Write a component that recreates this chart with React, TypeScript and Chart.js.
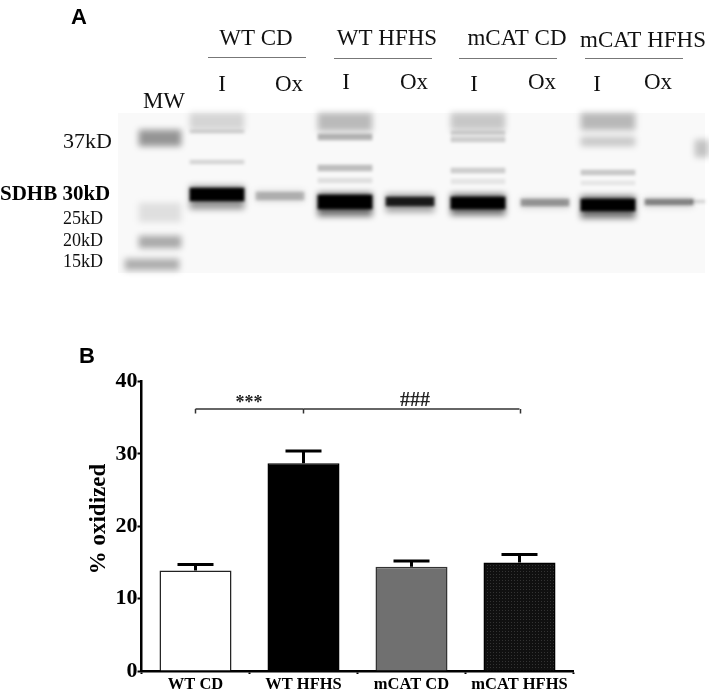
import React, { useEffect, useRef } from "react";
import { Chart, registerables } from "chart.js";

Chart.register(...registerables);

const W = 709;
const H = 690;
const SERIF = "'Liberation Serif'";
const SANS = "'Liberation Sans'";

// Panel B data
const groups = ["WT CD", "WT HFHS", "mCAT CD", "mCAT HFHS"];
const oxidized = [13.9, 28.7, 14.4, 15.0];
const errorTop = [14.7, 30.4, 15.2, 16.1];
const bracketStars = [36.2, 36.2, null, null];
const bracketHash = [null, 36.2, 36.2, 36.2];
const yTicks = [0, 10, 20, 30, 40];

// Panel A gel: lane position along the gel, migration start / end, density
const bandLane = [
  42, 42, 42, 34,
  99, 99, 99, 99, 99,
  162, 162,
  227, 227, 227, 227, 227, 227,
  292, 292,
  360, 360, 360, 360, 360, 360, 360,
  427, 427,
  490, 490, 490, 490, 490, 490,
  551, 551,
  580, 584,
];
const bandStart = [
  17, 90, 123, 146,
  0, 17, 47, 73, 75,
  78, 79,
  0, 21, 52, 65, 80, 82,
  81, 84,
  0, 18, 24, 55, 66, 81, 84,
  85, 86,
  0, 24, 57, 68, 83, 86,
  85, 86,
  87, 27,
];
const bandEnd = [
  33, 109, 135, 157,
  17, 20, 51, 96, 88,
  88, 87,
  18, 27, 58, 70, 103, 96,
  99, 93,
  17, 22, 29, 60, 71, 102, 96,
  95, 93,
  17, 33, 62, 72, 105, 98,
  94, 92,
  90, 44,
];
const bandDensity = [
  0.4, 0.1, 0.32, 0.3,
  0.14, 0.14, 0.14, 0.4, 1,
  0.14, 0.2,
  0.25, 0.28, 0.24, 0.1, 0.55, 1,
  0.35, 0.85,
  0.2, 0.16, 0.18, 0.18, 0.08, 0.55, 1,
  0.15, 0.32,
  0.26, 0.2, 0.2, 0.08, 0.55, 1,
  0.15, 0.4,
  0.14, 0.22,
];
const laneWidth = (x: number) => (x < 60 ? (x < 40 ? 54 : 42) : x > 570 ? 14 : [99, 227, 360, 490].includes(x) ? 54 : 48);

// Panel A texts
const headers = ["WT CD", "WT HFHS", "mCAT CD", "mCAT HFHS"];
const fractions = ["I", "Ox"];
const markers = ["37kD", "25kD", "20kD", "15kD"];

const stipple = () => {
  const c = document.createElement("canvas");
  c.width = 3;
  c.height = 3;
  const g = c.getContext("2d")!;
  g.fillStyle = "#101010";
  g.fillRect(0, 0, 3, 3);
  g.fillStyle = "#333333";
  g.fillRect(1, 1, 1, 1);
  return g.createPattern(c, "repeat")!;
};

const errorBars = {
  id: "errorBars",
  afterDatasetsDraw(chart: any) {
    const { ctx, scales } = chart;
    ctx.save();
    ctx.strokeStyle = "#000";
    groups.forEach((_, i) => {
      const x = scales.x.getPixelForValue(i);
      const top = scales.y.getPixelForValue(errorTop[i]);
      const base = scales.y.getPixelForValue(oxidized[i]);
      ctx.lineWidth = 3;
      ctx.beginPath();
      ctx.moveTo(x, base);
      ctx.lineTo(x, top);
      ctx.moveTo(x - 18, top);
      ctx.lineTo(x + 18, top);
      ctx.stroke();
    });
    // bracket ends and significance marks
    ctx.strokeStyle = "#333";
    ctx.lineWidth = 1.5;
    [0, 1, 3].forEach((i) => {
      const x = scales.x.getPixelForValue(i) + (i === 3 ? 1 : 0);
      const y = scales.y.getPixelForValue(36.2);
      ctx.beginPath();
      ctx.moveTo(x, y);
      ctx.lineTo(x, y + 4.5);
      ctx.stroke();
    });
    ctx.fillStyle = "#222";
    ctx.textAlign = "center";
    ctx.font = `bold 18px ${SERIF}`;
    ctx.fillText("***", 249, 408);
    ctx.font = `bold 20px ${SERIF}`;
    ctx.fillText("###", 415, 406);
    // y title and panel letter
    ctx.fillStyle = "#000";
    ctx.save();
    ctx.translate(105, 519);
    ctx.rotate(-Math.PI / 2);
    ctx.font = `bold 23px ${SERIF}`;
    ctx.fillText("% oxidized", 0, 0);
    ctx.restore();
    ctx.textAlign = "left";
    ctx.font = `900 22px ${SANS}`;
    ctx.fillText("B", 79, 363);
    ctx.restore();
  },
};

const gelBlur = {
  id: "gelBlur",
  beforeDraw(chart: any) {
    const { ctx, chartArea: a } = chart;
    ctx.save();
    ctx.fillStyle = "#f9f9f9";
    ctx.fillRect(a.left, a.top, a.right - a.left, a.bottom - a.top);
    ctx.restore();
  },
  beforeDatasetDraw(chart: any, args: any) {
    const { ctx } = chart;
    const i = args.index;
    const thick = bandEnd[i] - bandStart[i];
    const soft = bandDensity[i] < 0.7 && thick > 8;
    ctx.save();
    ctx.filter = `blur(${soft ? 3 : 1.6}px)`;
  },
  afterDatasetDraw(chart: any) {
    chart.ctx.restore();
  },
  afterDraw(chart: any) {
    const { ctx } = chart;
    ctx.save();
    ctx.fillStyle = "#000";
    ctx.textAlign = "center";
    ctx.font = `bold 22px ${SANS}`;
    ctx.fillText("A", 79, 24);
    ctx.fillStyle = "#111";
    ctx.font = `23px ${SERIF}`;
    const headerX = [256, 387, 517, 643];
    const headerY = [45, 45, 45, 47];
    headers.forEach((t, i) => ctx.fillText(t, headerX[i], headerY[i]));
    const fracX = [222, 289, 346, 414, 474, 542, 597, 658];
    const fracY = [91, 91, 89, 89, 91, 89, 91, 89];
    fracX.forEach((x, i) => ctx.fillText(fractions[i % 2], x, fracY[i]));
    ctx.fillText("MW", 164, 108);
    ctx.strokeStyle = "#777";
    ctx.lineWidth = 1;
    [[208, 57], [334, 58], [459, 58], [585, 58]].forEach(([x, y]) => {
      ctx.beginPath();
      ctx.moveTo(x, y + 0.5);
      ctx.lineTo(x + 98, y + 0.5);
      ctx.stroke();
    });
    ctx.textAlign = "left";
    ctx.font = `22px ${SERIF}`;
    ctx.fillText(markers[0], 63, 148);
    ctx.font = `18px ${SERIF}`;
    ctx.fillText(markers[1], 63, 224);
    ctx.fillText(markers[2], 63, 245.5);
    ctx.fillText(markers[3], 63, 267);
    ctx.fillStyle = "#000";
    ctx.font = `bold 21px ${SERIF}`;
    ctx.fillText("SDHB 30kD", 0, 200);
    ctx.restore();
  },
};

export default function App() {
  const barRef = useRef<HTMLCanvasElement>(null);
  const gelRef = useRef<HTMLCanvasElement>(null);

  useEffect(() => {
    const bars = new Chart(barRef.current!, {
      type: "bar",
      data: {
        labels: groups,
        datasets: [
          {
            type: "line",
            data: bracketStars,
            borderColor: "#333",
            borderWidth: 1.5,
            pointRadius: 0,
          },
          {
            type: "line",
            data: bracketHash,
            borderColor: "#333",
            borderWidth: 1.5,
            pointRadius: 0,
          },
          {
            data: oxidized,
            backgroundColor: ["#ffffff", "#000000", "#707070", stipple()],
            borderColor: ["#222", "#000", "#333", "#000"],
            borderWidth: 1.5,
            categoryPercentage: 1,
            barPercentage: 0.667,
          },
        ],
      } as any,
      options: {
        responsive: false,
        animation: false,
        layout: { padding: { left: 0, top: 381.5, right: 135.5, bottom: 0 } },
        plugins: { legend: { display: false }, tooltip: { enabled: false } },
        scales: {
          x: {
            afterFit: (s: any) => {
              s.height = 19;
            },
            border: { color: "#000", width: 2.5 },
            grid: { drawOnChartArea: false, tickLength: 3, tickWidth: 2, tickColor: "#000" },
            ticks: {
              color: "#000",
              padding: 1,
              maxRotation: 0,
              font: { family: SERIF, weight: "bold", size: 16.5 },
            },
          },
          y: {
            min: 0,
            max: 40,
            afterFit: (s: any) => {
              s.width = 141.5;
            },
            afterBuildTicks: (s: any) => {
              s.ticks = yTicks.map((value) => ({ value }));
            },
            border: { color: "#000", width: 2.5 },
            grid: { drawOnChartArea: false, tickLength: 4, tickWidth: 2, tickColor: "#000" },
            ticks: {
              color: "#000",
              padding: 0,
              font: { family: SERIF, weight: "bold", size: 22 },
            },
          },
        },
      },
      plugins: [errorBars],
    } as any);

    const gel = new Chart(gelRef.current!, {
      type: "bar",
      data: {
        datasets: bandLane.map((x, i) => ({
          data: [{ x, y: [bandStart[i], bandEnd[i]] }],
          backgroundColor: `rgba(0,0,0,${bandDensity[i]})`,
          barThickness: laneWidth(x),
          grouped: false,
          clip: false,
        })),
      } as any,
      options: {
        responsive: false,
        animation: false,
        layout: { padding: { left: 118, top: 113, right: 4, bottom: 417 } },
        plugins: { legend: { display: false }, tooltip: { enabled: false } },
        scales: {
          x: { type: "linear", min: 0, max: 587, offset: false, display: false },
          y: { type: "linear", min: 0, max: 160, reverse: true, display: false },
        },
      },
      plugins: [gelBlur],
    } as any);

    return () => {
      bars.destroy();
      gel.destroy();
    };
  }, []);

  return (
    <div style={{ position: "absolute", left: 0, top: 0, width: W, height: H, overflow: "hidden", background: "#fff" }}>
      <canvas ref={barRef} width={W} height={H} style={{ position: "absolute", left: 0, top: 0 }} />
      <canvas ref={gelRef} width={W} height={H} style={{ position: "absolute", left: 0, top: 0 }} />
    </div>
  );
}
